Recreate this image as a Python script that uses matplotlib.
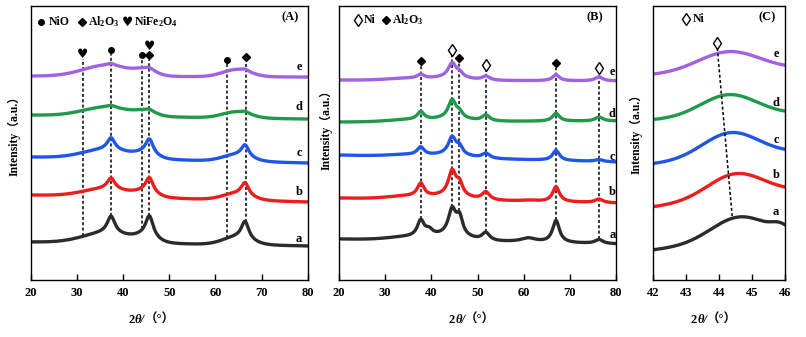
import numpy as np
import matplotlib.pyplot as plt
from matplotlib.offsetbox import AnnotationBbox, HPacker, TextArea

plt.rcParams['font.family'] = ['Liberation Serif', 'DejaVu Sans', 'Noto Sans CJK SC']
plt.rcParams['font.weight'] = 'bold'
plt.rcParams['mathtext.fontset'] = 'custom'
plt.rcParams['mathtext.rm'] = 'Liberation Serif:bold'
plt.rcParams['mathtext.default'] = 'rm'

samples = ['a', 'b', 'c', 'd', 'e']
line_colors = ['#2b2b2b', '#ee1c1c', '#1f56e8', '#1f9a4a', '#a162e2']

# (A) calcined samples: baseline ends, broad humps and sharp reflections
ox_base_start = [38, 85, 123, 165, 204]
ox_base_end = [34, 78, 117, 161, 203]
ox_hump_pos = [36.5, 45.0, 64.5]
ox_hump_fwhm = [12.0, 5.0, 7.0]
ox_hump_h = [[10, 5, 7], [8, 4, 6], [9, 4, 6], [9, 4, 6], [11, 5, 7]]
ox_peak_pos = [37.4, 45.7, 66.4]
ox_peak_fwhm = [2.0, 2.0, 2.0]
ox_peak_h = [[17, 21, 18], [11, 15, 13], [12, 15, 12], [2, 2, 2], [2, 2, 2]]
ox_label_y = [41, 88, 127, 173, 213]

ox_mark_x = [31.3, 37.5, 44.2, 45.7, 45.7, 62.5, 66.5]
ox_mark_y = [226, 230, 225, 225, 234, 220, 223]
ox_mark_kind = ['heart', 'dot', 'dot', 'diamond', 'heart', 'dot', 'diamond']
ox_line_x = [31.3, 37.5, 44.2, 45.7, 62.5, 66.5]
ox_line_top = [221, 226, 221, 220, 216, 218]

# (B) reduced samples
red_base_start = [41, 82, 125, 158, 200]
red_base_end = [36, 77, 118, 159, 199]
red_hump_pos = [35.0, 44.5]
red_hump_fwhm = [10.0, 8.0]
red_hump_h = [[3, 5], [3, 4], [2, 3], [2, 3], [2, 3]]
red_peak_pos = [37.7, 39.5, 44.5, 46.1, 51.8, 61.0, 67.0, 76.3]
red_peak_fwhm = [1.8, 2.0, 2.0, 1.6, 2.0, 4.0, 1.8, 2.0]
red_peak_h = [[16, 6, 25, 17, 8, 4, 22, 4],
              [13, 0, 24, 11, 8, 1, 15, 3.5],
              [8, 0, 17, 7, 5, 0, 10, 2],
              [8, 0, 18, 5, 6, 0, 8, 4],
              [4, 0, 14, 4, 4, 0, 6, 4]]
red_label_y = [45, 88, 123, 166, 208]

red_mark_x = [37.8, 44.5, 46.0, 51.8, 67.0, 76.3]
red_mark_y = [219, 230, 222, 215, 217, 212]
red_mark_kind = ['diamond', 'open', 'diamond', 'open', 'diamond', 'open']
red_line_top = [214, 225, 217, 210, 212, 207]

# (C) Ni(111) region of the reduced samples
ni_base_start = [30, 73, 116, 160, 205]
ni_base_end = [44, 88, 127, 166, 211]
ni_peak_pos = [44.6, 44.5, 44.35, 44.3, 44.3]
ni_peak_h = [24, 24, 25, 22, 20]
ni_peak_fwhm = [2.0, 2.0, 2.0, 2.0, 2.2]
ni_side_pos = 45.85
ni_side_h = [6, 0, 0, 0, 0]
ni_label_y = [68, 105, 140, 177, 226]
ni_shift_x = [43.95, 44.4]
ni_shift_y = [232, 64]


def gauss(x, c, h, w):
    s = w / 2.355
    return h * np.exp(-(x - c) ** 2 / (2 * s * s))


def lorentz(x, c, h, w):
    return h / (1 + ((x - c) / (w / 2)) ** 2)


def pattern(x, b0, b1, humps, peaks):
    y = b0 + (b1 - b0) * (x - x[0]) / (x[-1] - x[0])
    for c, h, w in humps:
        y = y + gauss(x, c, h, w)
    for c, h, w in peaks:
        y = y + lorentz(x, c, h, w)
    return y


def draw_mark(ax, x, y, kind):
    if kind == 'dot':
        ax.plot(x, y, 'o', color='black', ms=4, zorder=4)
    elif kind == 'diamond':
        ax.plot(x, y, 'D', color='black', ms=4.2, zorder=4)
    elif kind == 'open':
        ax.plot(x, y, 'd', mfc='white', mec='black', mew=1.0, ms=6.5, zorder=4)
    elif kind == 'heart':
        ax.text(x, y, '\u2665', ha='center', va='center', fontsize=9,
                family=['DejaVu Sans'], zorder=4)


def angle_label(ax, xpos):
    # "2θ/（°）" with the theta and slash in italics
    parts = [TextArea('2', textprops=dict(fontsize=9, fontweight='bold')),
             TextArea('θ/', textprops=dict(fontsize=9, fontweight='bold', fontstyle='italic')),
             TextArea('（°）', textprops=dict(fontsize=9, fontweight='bold'))]
    box = HPacker(children=parts, pad=0, sep=0, align='baseline')
    ab = AnnotationBbox(box, (xpos, -0.124), xycoords='axes fraction',
                        box_alignment=(0.5, 1.0), frameon=False, pad=0,
                        annotation_clip=False)
    ax.add_artist(ab)


def style_axes(ax, xlim, xticks, ylab_x, ylab_y, xlab_x):
    ax.set_xlim(*xlim)
    ax.set_ylim(0, 274)
    ax.set_xticks(xticks)
    ax.set_yticks([])
    ax.tick_params(axis='x', direction='in', length=4, width=1, labelsize=9, pad=5)
    for sp in ax.spines.values():
        sp.set_linewidth(1.0)
    ax.set_ylabel('Intensity（a.u.）', fontsize=8.5, fontweight='bold')
    ax.yaxis.set_label_coords(ylab_x, ylab_y)
    angle_label(ax, xlab_x)


fig = plt.figure(figsize=(8.06, 3.37), dpi=100)
axA = fig.add_axes([0.038, 0.169, 0.344, 0.813])
axB = fig.add_axes([0.4206, 0.169, 0.3437, 0.813])
axC = fig.add_axes([0.810, 0.169, 0.164, 0.813])

lw = 2.4

# panel A
x = np.linspace(20, 80, 1201)
curves_a = []
for i in range(5):
    humps = list(zip(ox_hump_pos, ox_hump_h[i], ox_hump_fwhm))
    peaks = list(zip(ox_peak_pos, ox_peak_h[i], ox_peak_fwhm))
    y = pattern(x, ox_base_start[i], ox_base_end[i], humps, peaks)
    curves_a.append(y)
    axA.plot(x, y, color=line_colors[i], lw=lw, zorder=2)
    axA.text(78.1, ox_label_y[i], samples[i], fontsize=9, ha='center', va='center')
for xl, top in zip(ox_line_x, ox_line_top):
    bottom = np.interp(xl, x, curves_a[0])
    axA.plot([xl, xl], [bottom, top], color='black', lw=1.1, ls=(0, (2, 1.5)), zorder=1)
for mx, my, kind in zip(ox_mark_x, ox_mark_y, ox_mark_kind):
    draw_mark(axA, mx, my, kind)
draw_mark(axA, 22.2, 258, 'dot')
axA.text(24.0, 258, 'NiO', fontsize=8.5, va='center')
draw_mark(axA, 31.05, 258, 'diamond')
axA.text(32.4, 258, r'Al$_2$O$_3$', fontsize=8.5, va='center')
draw_mark(axA, 40.9, 258, 'heart')
axA.text(42.3, 258, r'NiFe$_2$O$_4$', fontsize=8.5, va='center')
axA.text(76.2, 263, '(A)', fontsize=9, ha='center', va='center')
style_axes(axA, (20, 80), range(20, 81, 10), -0.035, 0.538, 0.437)

# panel B
curves_b = []
for i in range(5):
    humps = list(zip(red_hump_pos, red_hump_h[i], red_hump_fwhm))
    peaks = list(zip(red_peak_pos, red_peak_h[i], red_peak_fwhm))
    y = pattern(x, red_base_start[i], red_base_end[i], humps, peaks)
    curves_b.append(y)
    axB.plot(x, y, color=line_colors[i], lw=lw, zorder=2)
    axB.text(79.2, red_label_y[i], samples[i], fontsize=9, ha='center', va='center')
for xl, top in zip(red_mark_x, red_line_top):
    bottom = np.interp(xl, x, curves_b[0])
    axB.plot([xl, xl], [bottom, top], color='black', lw=1.1, ls=(0, (2, 1.5)), zorder=1)
for mx, my, kind in zip(red_mark_x, red_mark_y, red_mark_kind):
    draw_mark(axB, mx, my, kind)
draw_mark(axB, 24.2, 260, 'open')
axB.text(25.4, 260, 'Ni', fontsize=8.5, va='center')
draw_mark(axB, 30.2, 260, 'diamond')
axB.text(31.4, 260, r'Al$_2$O$_3$', fontsize=8.5, va='center')
axB.text(75.4, 263, '(B)', fontsize=9, ha='center', va='center')
style_axes(axB, (20, 80), range(20, 81, 10), -0.022, 0.558, 0.48)

# panel C
xc = np.linspace(42, 46, 401)
for i in range(5):
    y = pattern(xc, ni_base_start[i], ni_base_end[i],
                [(ni_peak_pos[i], ni_peak_h[i], ni_peak_fwhm[i]),
                 (ni_side_pos, ni_side_h[i], 0.6)], [])
    axC.plot(xc, y, color=line_colors[i], lw=lw, zorder=2)
    axC.text(45.73, ni_label_y[i], samples[i], fontsize=9, ha='center', va='center')
axC.plot(ni_shift_x, ni_shift_y, color='black', lw=1.1, ls=(0, (2, 1.5)), zorder=3)
draw_mark(axC, 43.93, 237, 'open')
draw_mark(axC, 43.0, 261, 'open')
axC.text(43.2, 261, 'Ni', fontsize=8.5, va='center')
axC.text(45.45, 263, '(C)', fontsize=9, ha='center', va='center')
style_axes(axC, (42, 46), range(42, 47), -0.076, 0.544, 0.462)

fig.savefig('out.png', dpi=100)
